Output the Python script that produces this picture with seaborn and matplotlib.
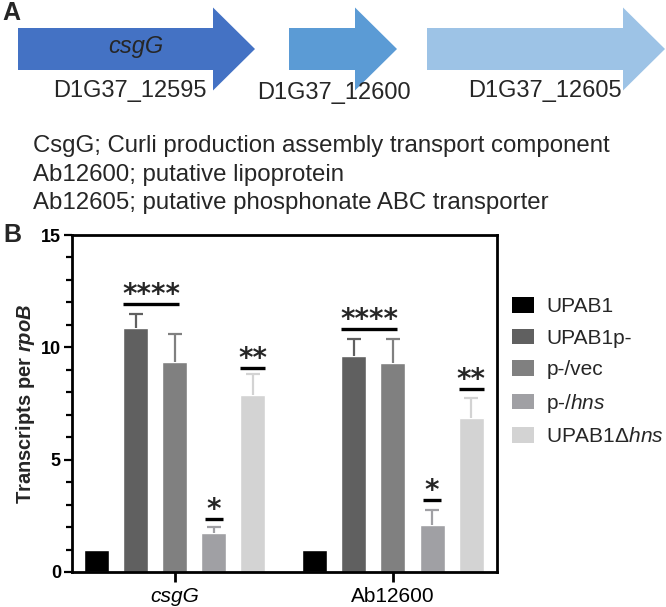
import numpy as np
import pandas as pd
import seaborn as sns
import matplotlib.pyplot as plt
from matplotlib.patches import FancyArrow, Patch
from matplotlib.ticker import MultipleLocator

# Panel A: gene cluster
gene_ids = ["D1G37_12595", "D1G37_12600", "D1G37_12605"]
gene_colors = ["#4472c4", "#5b9bd5", "#9dc3e6"]
gene_start = [18, 289, 427]
gene_end = [255, 397, 665]
gene_descr = [
    "CsgG; Curli production assembly transport component",
    "Ab12600; putative lipoprotein",
    "Ab12605; putative phosphonate ABC transporter",
]

# Panel B: qRT-PCR
genes = ["csgG", "Ab12600"]
strains = ["UPAB1", "UPAB1p-", "p-/vec", "p-/hns", "UPAB1Δhns"]
legend_labels = ["UPAB1", "UPAB1p-", "p-/vec", r"p-/$\it{hns}$", r"UPAB1Δ$\it{hns}$"]
bar_colors = ["#000000", "#606060", "#808080", "#a0a0a4", "#d3d3d3"]
csgg_mean = [1.0, 10.87, 9.35, 1.75, 7.86]
csgg_err = [0.0, 0.60, 1.24, 0.27, 0.95]
ab12600_mean = [1.0, 9.61, 9.30, 2.09, 6.87]
ab12600_err = [0.0, 0.76, 1.07, 0.67, 0.86]

# significance marks (gene index, first strain, last strain, height, label)
sig_gene = [0, 0, 0, 1, 1, 1]
sig_first = [1, 3, 4, 1, 3, 4]
sig_last = [2, 3, 4, 2, 3, 4]
sig_height = [11.93, 2.36, 9.08, 10.81, 3.20, 8.14]
sig_text = ["****", "*", "**", "****", "*", "**"]

df = pd.DataFrame({
    "gene": np.repeat(genes, len(strains)),
    "strain": strains * 2,
    "value": csgg_mean + ab12600_mean,
})
errs = [csgg_err, ab12600_err]

sns.set_theme(style="ticks")
plt.rcParams["font.family"] = ["Liberation Sans", "DejaVu Sans"]
plt.rcParams["mathtext.fontset"] = "custom"
plt.rcParams["mathtext.rm"] = "Liberation Sans"
plt.rcParams["mathtext.it"] = "Liberation Sans:italic"
plt.rcParams["mathtext.bf"] = "Liberation Sans:bold"
plt.rcParams["mathtext.bfit"] = "Liberation Sans:bold:italic"

W, H = 666, 607
fig = plt.figure(figsize=(W / 100, H / 100), dpi=100)

# top panel drawn in a pixel-scaled axes
ax_top = fig.add_axes([0, 0, 1, 1], zorder=-1)
ax_top.set_xlim(0, W)
ax_top.set_ylim(H, 0)
ax_top.axis("off")

ax_top.text(2, 13, "A", fontsize=18, fontweight="bold", va="center", ha="left")
for i in range(len(gene_ids)):
    ax_top.add_patch(FancyArrow(
        gene_start[i], 49, gene_end[i] - gene_start[i], 0,
        width=42, head_width=83, head_length=42,
        length_includes_head=True, color=gene_colors[i], lw=0,
    ))
label_x = [130, 334, 545]
label_y = [91, 93, 91]
for i in range(len(gene_ids)):
    ax_top.text(label_x[i], label_y[i], gene_ids[i], fontsize=17,
                ha="center", va="center")
ax_top.text(136, 47, "csgG", fontsize=17, style="italic", ha="center", va="center")
for i, line in enumerate(gene_descr):
    ax_top.text(33, 146 + i * 28.5, line, fontsize=17.3, ha="left", va="center")
ax_top.text(3, 235, "B", fontsize=18, fontweight="bold", ha="left", va="center")

# bar chart
ax = fig.add_axes([72 / W, 1 - 572 / H, (497 - 72) / W, (572 - 235) / H])
ax.set_facecolor("none")
sns.barplot(
    data=df, x="gene", y="value", hue="strain",
    hue_order=strains, palette=bar_colors, saturation=1,
    width=0.895, gap=0.36, errorbar=None, legend=False, ax=ax,
)
bars = list(ax.containers)

for i, cont in enumerate(bars):
    for j, bar in enumerate(cont):
        e = errs[j][i]
        if e > 0:
            xc = bar.get_x() + bar.get_width() / 2
            top = bar.get_height()
            _, caps, _ = ax.errorbar(xc, top, yerr=[[0], [e]],
                                     color=bar_colors[i], elinewidth=1.6,
                                     capsize=4.7, capthick=1.6, zorder=1)
            # keep only the upper cap
            for c in caps:
                if np.allclose(c.get_ydata(), top):
                    c.set_visible(False)

for k in range(len(sig_text)):
    b0 = bars[sig_first[k]][sig_gene[k]]
    b1 = bars[sig_last[k]][sig_gene[k]]
    w = b0.get_width()
    x0 = b0.get_x()
    x1 = b1.get_x() + w
    if sig_first[k] != sig_last[k]:
        x1 -= 0.35 * w
    elif sig_text[k] == "*":
        x0 += 0.14 * w
        x1 -= 0.14 * w
    ax.plot([x0, x1], [sig_height[k]] * 2, color="black", lw=2.4,
            solid_capstyle="butt")
    ax.text((x0 + x1) / 2, sig_height[k] + 0.05, sig_text[k],
            family="DejaVu Sans", fontweight="bold", fontsize=20,
            ha="center", va="baseline")

ax.set_xlim(-0.472, 1.477)
ax.set_ylim(0, 15)
ax.set_yticks([0, 5, 10, 15])
ax.yaxis.set_minor_locator(MultipleLocator(1))
ax.set_xticks([0, 1])
ax.set_xticklabels(genes)
ax.get_xticklabels()[0].set_style("italic")
for lab in ax.get_yticklabels():
    lab.set_fontweight("bold")

for s in ax.spines.values():
    s.set_visible(True)
    s.set_linewidth(2)
    s.set_color("black")

ax.tick_params(axis="y", which="major", length=6, width=1.6, labelsize=13,
               pad=2, color="black", labelcolor="black")
ax.tick_params(axis="y", which="minor", length=4, width=1.6, color="black")
ax.tick_params(axis="x", length=7, width=2, labelsize=15, pad=4,
               color="black", labelcolor="black")

ax.set_xlabel("")
ax.set_ylabel(r"Transcripts per $\mathbfit{rpoB}$", fontsize=14.5,
              fontweight="bold", labelpad=3)

handles = [Patch(facecolor=c, edgecolor="none") for c in bar_colors]
ax.legend(handles, legend_labels, loc="upper left",
          bbox_to_anchor=(512 / W, 1 - 297 / H), bbox_transform=fig.transFigure,
          frameon=False, fontsize=15, handlelength=1.05, handleheight=0.78,
          handletextpad=0.6, labelspacing=0.6, borderpad=0, borderaxespad=0)

plt.savefig("out.png", dpi=100)
plt.close()
